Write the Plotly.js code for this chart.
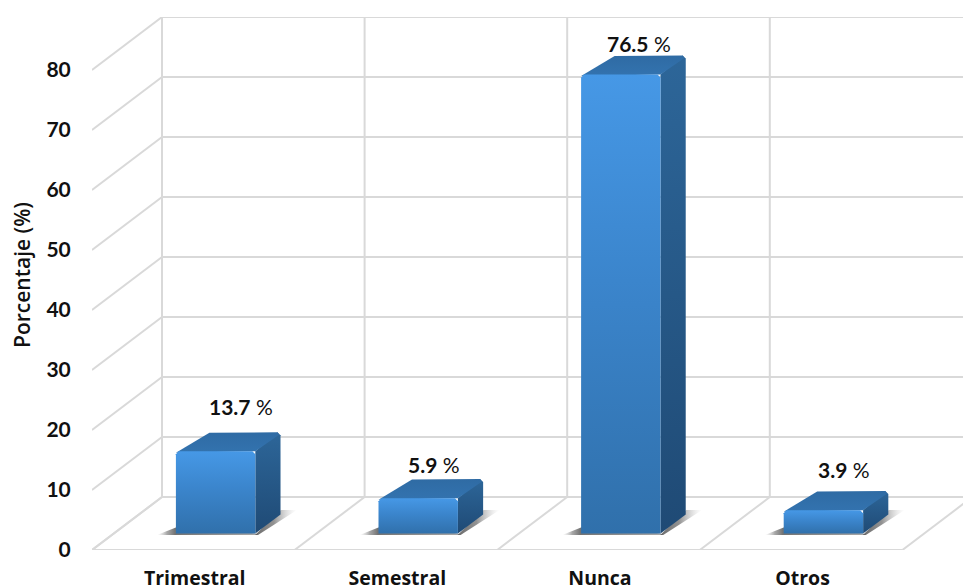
<!DOCTYPE html>
<html><head><meta charset="utf-8">
<script src="https://cdn.plot.ly/plotly-3.0.1.min.js"></script>
<style>html,body{margin:0;padding:0;background:#fff}</style></head>
<body><div id="chart" style="width:963px;height:588px"></div>
<script>
const categories = ["Trimestral","Semestral","Nunca","Otros"];
const values = [13.7,5.9,76.5,3.9];
const labelTexts = ["13.7","5.9","76.5","3.9"];
const yTicks = [0,10,20,30,40,50,60,70,80];
const labelDx = [25,16,18,21];
const labelDy = [45,34,31,41];

// oblique projection (px scale helpers)
const W=963,H=588,L=92,B=38,T=17;
const band=202.6, pxPerVal=6, depthX=70/band, depthY=53/pxPerVal;
const P=(c,v,d)=>[c+d*depthX, v+d*depthY];
const barLeft=0.307, barW=0.392, d0=0.31, d1=0.67;
const traces=[];
function poly(pts,type,scale){
  traces.push({type:'scatter',mode:'lines',x:pts.map(p=>p[0]),y:pts.map(p=>p[1]),
    fill:'toself',line:{width:0,color:'rgba(0,0,0,0)'},
    fillgradient:{type:type,colorscale:scale},hoverinfo:'skip',showlegend:false});
}
// grid
const gx=[],gy=[];
const seg=(a,b)=>{gx.push(a[0],b[0],null);gy.push(a[1],b[1],null);};
yTicks.forEach(v=>{
  seg(P(0,v,0),P(0,v,1));
  seg(P(0,v,1),P(5,v,1));
});
for(let i=0;i<=categories.length;i++){
  seg(P(i,0,0),P(i,0,1));
  seg(P(i,0,1),P(i,80,1));
}
seg(P(0,0,0),P(categories.length,0,0));
traces.push({type:'scatter',mode:'lines',x:gx,y:gy,line:{color:'#D9D9D9',width:2},hoverinfo:'skip',showlegend:false});

const ce=3/band, ve=3/pxPerVal; // bevel of corners
values.forEach((v,i)=>{
  const a=i+barLeft,b=a+barW;
  // shadows
  poly([P(i+.223,0,.283),P(i+.72,0,.283),P(i+.70,0,.31),P(i+.285,0,.48)],'horizontal',
    [[0,'rgba(190,190,190,0)'],[0.1,'rgba(130,130,130,0.7)'],[0.18,'rgba(90,90,90,0.85)'],[1,'rgba(130,130,130,0.7)']]);
  poly([P(i+.707,0,.283),P(i+.672,0,.755),P(i+.751,0,.755),P(i+.7216,0,.283)],'horizontal',
    [[0,'rgba(80,80,80,0.85)'],[0.45,'rgba(110,110,110,0.75)'],[1,'rgba(200,200,200,0)']]);
  // side
  poly([P(b,0,d0),P(b,0,d1),P(b,v-ve,d1),P(b-ce,v,d1),P(b,v,d0)],'vertical',[[0,'#1F4A75'],[1,'#2D6699']]);
  // top
  poly([P(a,v-ve/2,d0),P(a+ce,v,d0+.03),P(a+ce*3,v,d1-.01),P(b-ce,v,d1),P(b,v-ve/2,d1-.02),P(b,v,d0)],'vertical',[[0,'#3373AF'],[1,'#2F6BA4']]);
  // front
  const y0=P(a,0,d0)[1], y1=P(a,v,d0)[1], sx=d0*depthX;
  poly([[a,y0],[b,y0],[b,y1-ve],[b-ce,y1],[a+ce,y1],[a,y1-ve]].map(p=>[p[0]+sx,p[1]]),
    'vertical',[[0,'#3070AB'],[0.55,'#3B85CC'],[1,'#4698E6']]);
});

const annotations=values.map((v,i)=>{
  const c=P(i+barLeft+barW/2,v,d0);
  return {x:c[0],y:c[1],xref:'x',yref:'y',text:'<b>'+labelTexts[i]+'</b> %',showarrow:false,
    xshift:labelDx[i],yshift:labelDy[i],xanchor:'center',yanchor:'middle',
    font:{family:'Lato',size:21,color:'#111'}};
});
annotations.push({xref:'paper',yref:'paper',x:0,y:(H-B-275)/(H-B-T),xshift:-70,textangle:-90,showarrow:false,
  xanchor:'center',yanchor:'middle',text:'Porcentaje (%)',font:{family:'Open Sans',size:21,color:'#111',weight:600}});

Plotly.newPlot('chart',traces,{
  width:W,height:H,margin:{l:L,r:0,t:T,b:B,pad:0},paper_bgcolor:'#fff',plot_bgcolor:'#fff',
  showlegend:false,annotations,
  xaxis:{range:[0,(W-L)/band],showgrid:false,zeroline:false,showline:false,
    tickmode:'array',tickvals:categories.map((c,i)=>i+0.507),ticktext:categories,
    ticks:'outside',ticklen:11,tickcolor:'rgba(0,0,0,0)',
    tickfont:{family:'Open Sans',size:19.5,color:'#111',weight:700},tickangle:0},
  yaxis:{range:[0,(H-B-T)/pxPerVal],showgrid:false,zeroline:false,showline:false,
    tickmode:'array',tickvals:yTicks,ticktext:yTicks.map(String),
    ticks:'outside',ticklen:16,tickcolor:'rgba(0,0,0,0)',
    tickfont:{family:'Lato',size:21,color:'#111',weight:700}}
},{displayModeBar:false,staticPlot:true});
</script></body></html>
